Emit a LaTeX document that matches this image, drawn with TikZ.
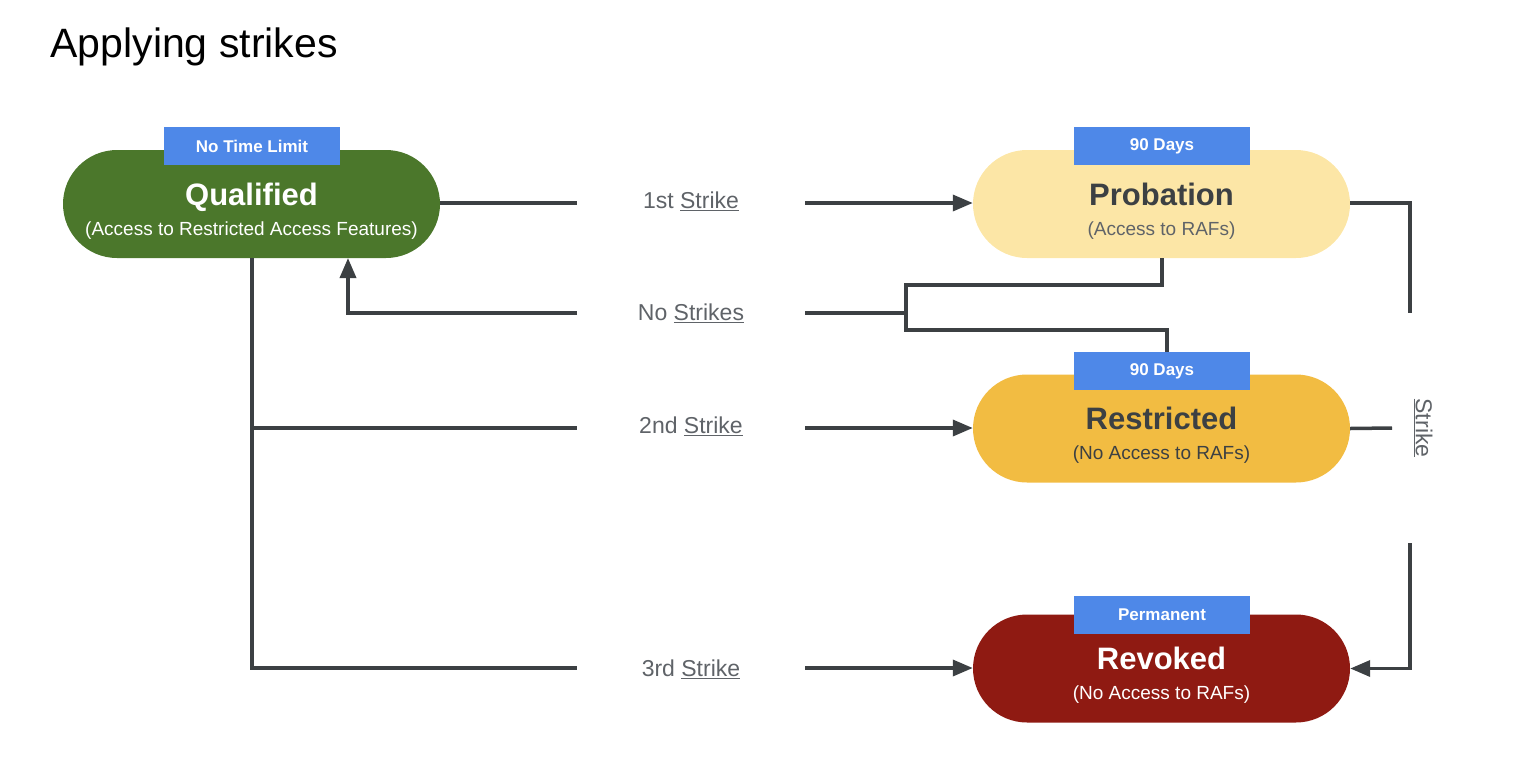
\documentclass[tikz,border=0pt]{standalone}
\usepackage{fontspec}
\setmainfont{Liberation Sans}
\usetikzlibrary{arrows.meta}
\definecolor{lc}{HTML}{3C4043}
\definecolor{tc}{HTML}{5F6368}
\definecolor{qg}{HTML}{4B772B}
\definecolor{py}{HTML}{FCE6A6}
\definecolor{ro}{HTML}{F2BC42}
\definecolor{rr}{HTML}{8F1A12}
\definecolor{bt}{HTML}{4E88E8}
\newcommand{\pushdown}{\rule{0pt}{36pt}}
\begin{document}
\begin{tikzpicture}[x=1pt,y=-1pt,
  st/.style={rounded corners=54pt,minimum width=377pt,minimum height=108pt,inner sep=0pt,align=center,font=\fontsize{19}{30}\selectfont},
  tag/.style={fill=bt,minimum width=176pt,minimum height=38pt,inner sep=0pt,text=white,font=\fontsize{17}{19}\selectfont\bfseries},
  ln/.style={draw=lc,line width=3.5pt},
  ar/.style={ln,-{Triangle[length=20pt,width=16pt]}},
  lab/.style={text=tc,font=\fontsize{23}{26}\selectfont,inner sep=2pt}]
\useasboundingbox (0,0) rectangle (1540,780);
\node[anchor=west,font=\fontsize{41}{46}\selectfont] (title) at (47,47) {Applying strikes};
\node[st,fill=qg,text=white] (q) at (251.5,204) {\pushdown{\fontsize{31}{34}\selectfont\bfseries Qualified}\\(Access to Restricted Access Features)};
\node[st,fill=py,text=lc] (p) at (1161.5,204) {\pushdown{\fontsize{31}{34}\selectfont\bfseries Probation}\\{\color{tc}(Access to RAFs)}};
\node[st,fill=ro,text=lc] (r) at (1161.5,428.5) {\pushdown{\fontsize{31}{34}\selectfont\bfseries Restricted}\\(No Access to RAFs)};
\node[st,fill=rr,text=white] (v) at (1161.5,668.5) {\pushdown{\fontsize{31}{34}\selectfont\bfseries Revoked}\\(No Access to RAFs)};
\node[tag] (tq) at (252,146) {No Time Limit};
\node[tag] (tp) at (1162,146) {90 Days};
\node[tag] (tr) at (1162,371) {90 Days};
\node[tag] (tv) at (1162,615) {Permanent};
\node[lab] (l1) at (691,201) {1st \underline{Strike}};
\node[lab] (l0) at (691,313) {No \underline{Strikes}};
\node[lab] (l2) at (691,426) {2nd \underline{Strike}};
\node[lab] (l3) at (691,669) {3rd \underline{Strike}};
\node[lab,rotate=-90] (ls) at (1423,428) {\underline{Strike}};
\coordinate (a1) at (577,203); \coordinate (b1) at (805,203);
\coordinate (a0) at (577,313); \coordinate (b0) at (805,313);
\coordinate (a2) at (577,428); \coordinate (b2) at (805,428);
\coordinate (a3) at (577,668); \coordinate (b3) at (805,668);
\draw[ln] (q.east|-a1) -- (a1);
\draw[ar] (b1) -- (p.west|-b1);
\draw[ar] (a0) -| (348,258);
\draw[ln] (b0) -- (906,313);
\draw[ln] (1162,258) -- (1162,285) -| (906,330) -| (tr.north-|1167,0);
\draw[ln] (252,258) |- (a3);
\draw[ln] (252,428) -- (a2);
\draw[ar] (b2) -- (r.west|-b2);
\draw[ar] (b3) -- (v.west|-b3);
\coordinate (s1) at (1410,313); \coordinate (s2) at (1392,428); \coordinate (s3) at (1410,543);
\draw[ln] (p.east|-0,203) -| (s1);
\draw[ln] (r.east) -- (s2);
\draw[ar] (s3) |- (v.east);
\end{tikzpicture}
\end{document}
